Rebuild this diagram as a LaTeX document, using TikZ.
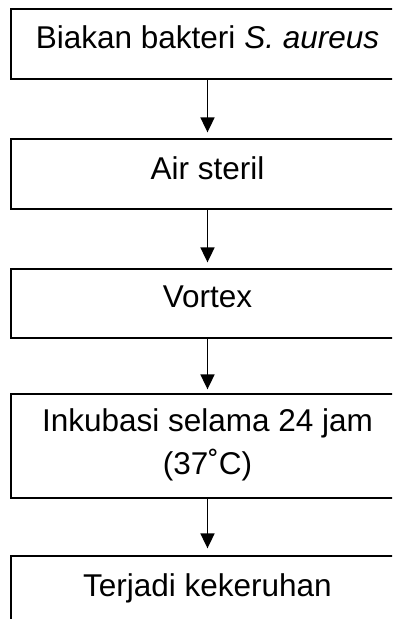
\documentclass[tikz,border=0pt]{standalone}
\usepackage{fontspec}
\setmainfont{Liberation Sans}
\usetikzlibrary{arrows.meta}
\begin{document}
\begin{tikzpicture}[x=1pt,y=1pt,
  stepbox/.style={draw=black,line width=1.3pt,rectangle,inner sep=0pt,minimum width=393pt},
  label/.style={anchor=base,inner sep=0pt,font=\fontsize{31.5}{43}\selectfont,align=center},
  flow/.style={-{Triangle[width=14pt,length=15pt]},line width=1.8pt,shorten >=6pt}]
\fill[white] (0,0) rectangle (392,-619);
\useasboundingbox (0,0) rectangle (392,-619);
\clip (0,0) rectangle (392,-619);
\node[stepbox,minimum height=70pt] (b1) at (207.5,-44) {};
\node[stepbox,minimum height=70pt] (b2) at (207.5,-174) {};
\node[stepbox,minimum height=69pt] (b3) at (207.5,-303.5) {};
\node[stepbox,minimum height=104pt] (b4) at (207.5,-446) {};
\node[stepbox,minimum height=100pt] (b5) at (207.5,-606) {};
\node[label] (t1) at ([yshift=-40pt]b1.north) {Biakan bakteri \textit{S. aureus}};
\node[label] (t2) at ([yshift=-41pt]b2.north) {Air steril};
\node[label] (t3) at ([yshift=-39pt]b3.north) {Vortex};
\node[label] (t4) at ([yshift=-81pt]b4.north) {Inkubasi selama 24 jam\\(37˚C)};
\node[label] (t5) at ([yshift=-41pt]b5.north) {Terjadi kekeruhan};
\draw[flow] (b1.south) -- (b2.north);
\draw[flow] (b2.south) -- (b3.north);
\draw[flow,shorten >=4pt] (b3.south) -- (b4.north);
\draw[flow,shorten >=7pt] (b4.south) -- (b5.north);
\end{tikzpicture}
\end{document}
